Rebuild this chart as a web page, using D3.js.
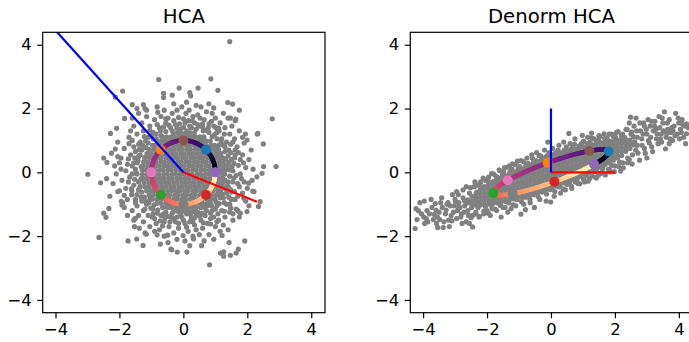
<!DOCTYPE html>
<html>
<head>
<meta charset="utf-8">
<script src="https://cdn.jsdelivr.net/npm/d3@7"></script>
<style>
  body { margin: 0; background: #fff; }
  text { font-family: "DejaVu Sans", sans-serif; }
</style>
</head>
<body>
<svg id="chart" width="689" height="342"></svg>
<script>
// ---- data ----
const tickValues = [-4, -2, 0, 2, 4];
const titles = ['HCA', 'Denorm HCA'];

// HCA (whitened) cloud: solid core as rows [y, xs], then scattered points [x, y]
const hcaCoreRows = [
  [1.24, [-0.31,-0.17,-0.06,0.08,0.21,0.34]],
  [1.11, [-0.65,-0.53,-0.39,-0.28,-0.14,-0.01,0.13,0.25,0.38,0.52,0.64]],
  [0.98, [-0.83,-0.70,-0.59,-0.44,-0.33,-0.20,-0.05,0.06,0.21,0.32,0.47,0.58,0.71,0.84]],
  [0.85, [-0.96,-0.85,-0.70,-0.59,-0.46,-0.31,-0.20,-0.07,0.08,0.19,0.34,0.45,0.60,0.71,0.86,0.97]],
  [0.72, [-1.08,-0.93,-0.82,-0.67,-0.56,-0.41,-0.30,-0.15,-0.04,0.11,0.22,0.37,0.48,0.63,0.74,0.89,1.00,1.10]],
  [0.59, [-1.14,-1.01,-0.86,-0.75,-0.60,-0.49,-0.34,-0.23,-0.08,0.03,0.18,0.29,0.44,0.55,0.70,0.81,0.96,1.07,1.17]],
  [0.46, [-1.21,-1.06,-0.95,-0.80,-0.69,-0.54,-0.43,-0.28,-0.17,-0.02,0.09,0.24,0.35,0.50,0.61,0.76,0.87,1.02,1.13,1.22]],
  [0.33, [-1.24,-1.11,-0.96,-0.85,-0.70,-0.59,-0.44,-0.33,-0.18,-0.07,0.08,0.19,0.34,0.45,0.60,0.71,0.86,0.97,1.12,1.25]],
  [0.20, [-1.27,-1.12,-1.01,-0.86,-0.75,-0.60,-0.49,-0.34,-0.23,-0.08,0.03,0.18,0.29,0.44,0.55,0.70,0.81,0.96,1.07,1.20,1.28]],
  [0.07, [-1.29,-1.16,-1.01,-0.90,-0.75,-0.64,-0.49,-0.38,-0.23,-0.12,0.03,0.14,0.29,0.40,0.55,0.66,0.81,0.92,1.07,1.18,1.30]],
  [-0.06, [-1.28,-1.13,-1.02,-0.87,-0.76,-0.61,-0.50,-0.35,-0.24,-0.09,0.02,0.17,0.28,0.43,0.54,0.69,0.80,0.95,1.06,1.21,1.29]],
  [-0.19, [-1.26,-1.13,-0.98,-0.87,-0.72,-0.61,-0.46,-0.35,-0.20,-0.09,0.06,0.17,0.32,0.43,0.58,0.69,0.84,0.95,1.10,1.23]],
  [-0.32, [-1.23,-1.08,-0.97,-0.82,-0.71,-0.56,-0.45,-0.30,-0.19,-0.04,0.07,0.22,0.33,0.48,0.59,0.74,0.85,1.00,1.11,1.24]],
  [-0.45, [-1.20,-1.07,-0.92,-0.81,-0.66,-0.55,-0.40,-0.29,-0.14,-0.03,0.12,0.23,0.38,0.49,0.64,0.75,0.90,1.01,1.16,1.21]],
  [-0.58, [-1.15,-1.00,-0.89,-0.74,-0.63,-0.48,-0.37,-0.22,-0.11,0.04,0.15,0.30,0.41,0.56,0.67,0.82,0.93,1.08,1.16]],
  [-0.71, [-1.07,-0.94,-0.79,-0.68,-0.53,-0.42,-0.27,-0.16,-0.01,0.10,0.25,0.36,0.51,0.62,0.77,0.88,1.03,1.09]],
  [-0.84, [-0.97,-0.82,-0.71,-0.56,-0.45,-0.30,-0.19,-0.04,0.07,0.22,0.33,0.48,0.59,0.74,0.85,0.98]],
  [-0.97, [-0.83,-0.70,-0.55,-0.44,-0.29,-0.18,-0.03,0.08,0.23,0.34,0.49,0.60,0.75,0.85]],
  [-1.10, [-0.65,-0.50,-0.39,-0.24,-0.13,0.02,0.13,0.28,0.39,0.54,0.66]],
  [-1.23, [-0.31,-0.16,-0.05,0.10,0.21,0.34]]
];
const hcaScatter = [
  [1.35,0.10],[1.42,0.31],[1.55,0.05],[1.60,0.45],[1.48,0.62],[1.72,0.22],[1.85,0.55],[1.68,0.80],[1.95,0.15],[2.05,0.40],[1.40,0.52],[1.78,-0.05],[2.12,0.70],[1.58,0.28],[1.90,0.92],[1.32,0.42],[2.18,0.10],
  [1.10,0.85],[1.20,1.05],[1.35,0.95],[1.05,1.25],[1.45,1.20],[1.30,1.40],[1.60,1.05],[1.15,1.55],[1.52,1.45],[1.75,1.30],[0.95,1.45],[1.40,1.70],[1.25,1.85],[1.62,1.62],[1.00,1.70],[1.85,1.10],[1.12,1.30],
  [0.62,1.30],[0.50,1.45],[0.78,1.40],[0.35,1.55],[0.65,1.65],[0.88,1.60],[0.45,1.80],[0.72,1.90],[0.25,1.40],[0.55,2.05],[0.90,1.85],[0.30,1.75],[0.80,2.15],[0.40,2.10],[0.18,1.95],[0.60,1.52],[0.95,2.02],
  [-0.10,1.35],[-0.25,1.50],[0.05,1.55],[-0.40,1.40],[-0.15,1.72],[0.08,1.85],[-0.35,1.85],[-0.55,1.55],[-0.05,2.05],[-0.30,2.15],[-0.60,1.95],[0.10,2.20],[-0.48,1.70],[-0.20,1.95],[-0.70,1.75],[0.00,1.40],[-0.82,2.05],
  [-0.70,1.15],[-0.85,1.05],[-0.95,1.25],[-0.75,1.40],[-1.10,1.10],[-1.05,1.45],[-1.25,1.30],[-0.90,1.65],[-1.30,1.55],[-1.45,1.20],[-1.15,1.75],[-1.55,1.45],[-1.40,1.85],[-1.70,1.10],[-1.60,1.70],[-0.80,1.88],[-1.20,2.00],
  [-1.30,0.70],[-1.40,0.50],[-1.55,0.80],[-1.45,0.30],[-1.65,0.55],[-1.75,0.25],[-1.85,0.75],[-1.60,1.00],[-1.95,0.45],[-2.05,0.95],[-2.15,0.20],[-1.35,0.95],[-1.80,0.05],[-2.25,0.60],[-1.50,0.10],[-2.00,0.30],[-1.70,0.90],
  [-1.32,-0.20],[-1.45,-0.05],[-1.55,-0.40],[-1.40,-0.55],[-1.68,-0.15],[-1.80,-0.50],[-1.62,-0.70],[-1.92,-0.25],[-2.05,-0.60],[-1.75,-0.85],[-2.20,-0.35],[-1.35,-0.45],[-2.10,-0.05],[-1.90,-0.95],[-2.30,-0.75],[-1.50,-0.85],[-2.40,-0.20],
  [-1.05,-0.85],[-1.15,-1.00],[-0.95,-1.15],[-1.30,-0.90],[-1.25,-1.20],[-1.45,-1.05],[-1.10,-1.35],[-1.40,-1.35],[-1.60,-1.20],[-0.90,-1.45],[-1.25,-1.55],[-1.55,-1.50],[-1.75,-1.35],[-1.05,-1.70],[-1.38,-1.75],[-1.85,-1.10],[-1.20,-1.90],
  [-0.55,-1.25],[-0.40,-1.40],[-0.70,-1.35],[-0.25,-1.55],[-0.60,-1.55],[-0.85,-1.60],[-0.45,-1.70],[-0.15,-1.75],[-0.75,-1.80],[-0.30,-1.90],[-0.60,-2.00],[-0.05,-1.40],[-0.90,-1.85],[-0.20,-2.10],[-0.48,-2.20],[-0.35,-1.28],[-0.72,-2.25],
  [0.10,-1.30],[0.25,-1.45],[0.05,-1.60],[0.40,-1.35],[0.35,-1.65],[0.15,-1.85],[0.55,-1.50],[0.60,-1.75],[0.30,-2.00],[0.75,-1.60],[0.50,-1.95],[0.05,-2.15],[0.80,-1.95],[0.20,-2.30],[0.65,-2.15],[0.45,-1.25],[0.95,-2.10],
  [0.75,-1.05],[0.90,-1.20],[1.05,-1.05],[0.95,-1.40],[1.20,-1.20],[1.10,-1.50],[1.35,-1.00],[1.30,-1.40],[1.45,-1.25],[1.25,-1.65],[1.55,-1.50],[1.00,-1.70],[1.65,-1.15],[1.40,-1.80],[1.75,-1.40],[0.85,-1.45],[1.15,-1.85],
  [1.30,-0.25],[1.40,-0.45],[1.35,-0.65],[1.55,-0.30],[1.60,-0.60],[1.50,-0.85],[1.75,-0.45],[1.70,-0.75],[1.90,-0.30],[1.85,-0.65],[2.00,-0.50],[1.25,-0.80],[1.95,-0.90],[1.65,-0.10],[2.15,-0.25],[1.45,-1.00],[2.05,-1.05],
  [1.38,0.22],[1.45,-0.12],[1.36,-0.42],[1.50,0.40],[1.30,0.65],[1.25,0.85],[1.05,1.05],[0.90,1.12],[0.80,1.25],[0.60,1.42],[0.40,1.35],[0.20,1.45],
  [0.12,1.30],[-0.20,1.38],[-0.35,1.30],[-0.55,1.28],[-0.62,1.42],[-0.85,1.20],[-0.95,1.05],[-1.10,0.92],[-1.18,0.78],[-1.35,0.55],[-1.42,0.36],[-1.32,0.18],
  [-1.48,-0.02],[-1.40,-0.30],[-1.30,-0.62],[-1.22,-0.78],[-1.08,-0.95],[-0.92,-1.02],[-0.80,-1.18],[-0.62,-1.30],[-0.48,-1.38],[-0.20,-1.40],[-0.08,-1.32],[0.22,-1.32],
  [0.35,-1.42],[0.58,-1.28],[0.72,-1.20],[0.88,-1.05],[1.02,-0.92],[1.15,-0.80],[1.22,-0.68],[1.40,-0.30],[1.32,-0.52],[1.52,0.18],
  [1.62,0.70],[1.55,0.95],[1.78,0.40],[1.70,-0.35],[1.62,-0.85],[1.48,-1.12],[1.28,-1.22],[1.08,-1.30],[0.85,-1.62],[0.62,-1.58],[0.40,-1.80],[0.10,-1.72],
  [-0.15,-1.60],[-0.42,-1.55],[-0.72,-1.52],[-0.98,-1.40],[-1.20,-1.15],[-1.50,-0.95],[-1.62,-0.52],[-1.72,-0.30],[-1.60,0.20],[-1.72,0.42],[-1.50,0.65],[-1.40,0.88],
  [-1.22,1.12],[-1.05,1.32],[-0.82,1.50],[-0.55,1.68],[-0.30,1.62],[0.00,1.68],[0.28,1.62],[0.52,1.70],[0.80,1.52],[1.02,1.40],[1.28,1.20],[1.48,0.88],
  [1.88,0.30],[1.82,-0.20],[1.55,-1.30],[0.20,-1.55],[-1.95,0.10],[-1.85,-0.72],[-1.65,1.30],[1.05,-1.55],[-0.65,-1.68],
  [1.42,0.70],[1.30,0.80],[1.18,0.95],[0.98,1.18],[0.70,1.32],[0.45,1.50],[0.15,1.62],[-0.12,1.52],[-0.45,1.48],[-0.72,1.30],[-1.00,1.15],[-1.18,0.98],
  [-1.28,0.85],[-1.52,0.45],[-1.60,-0.05],[-1.52,-0.22],[-1.45,-0.70],[-1.32,-0.78],[-1.18,-0.92],[-1.02,-1.12],[-0.82,-1.28],[-0.58,-1.42],[-0.30,-1.45],[0.00,-1.50],
  [0.30,-1.55],[0.52,-1.38],[0.68,-1.35],[0.85,-1.28],[1.00,-1.15],[1.12,-0.98],[1.28,-0.95],[1.42,-0.78],[1.48,-0.55],[1.58,-0.18],[1.45,0.08],[1.62,0.55],
  [1.72,0.62],[1.10,1.38],[-1.38,0.72],[-1.55,0.30],[1.50,-0.62],[-0.95,-1.30],
  [1.45,4.10],[-0.77,2.91],[0.86,2.93],[-1.90,2.55],[-0.13,2.64],[0.46,2.64],[1.08,2.57],[0.20,2.50],[0.23,2.40],[-0.62,2.48],[-0.62,2.35],[-0.35,2.42],
  [-2.13,2.36],[-1.60,2.12],[-1.45,2.00],[-1.25,2.12],[-1.15,1.95],[1.39,2.19],[1.54,2.14],[1.75,1.95],[1.47,1.70],[1.64,1.67],[1.94,1.20],[1.99,1.01],
  [2.31,1.20],[2.50,0.89],[2.78,1.68],[2.33,1.22],[2.90,0.18],[2.51,0.18],[2.46,-0.03],[2.30,-0.14],[2.04,-0.34],[2.17,-0.59],[2.40,-0.92],[2.35,-1.07],
  [2.21,-0.60],[1.89,-0.81],[1.70,-1.20],[1.78,-1.28],[1.99,-1.23],[1.92,-2.15],[1.72,-2.41],[1.65,-2.53],[1.47,-2.60],[1.26,-2.49],[1.43,-2.20],[1.21,-1.98],
  [1.16,-2.53],[1.26,-2.63],[0.82,-2.90],[0.57,-2.30],[0.11,-2.50],[-0.19,-2.50],[-0.39,-2.41],[-0.36,-2.43],[0.32,-2.09],[-0.01,-1.98],[-0.49,-1.97],[-0.82,-1.96],
  [-1.16,-1.94],[-1.46,-2.09],[-1.26,-2.29],[-1.73,-2.15],[-2.64,-2.04],[-2.33,-1.13],[-2.42,-1.41],[-2.49,-1.28],[-2.59,-0.33],[-2.99,-0.06],[-2.49,0.45],[-2.39,0.31],
  [-2.13,0.73],[-2.05,0.49],[-2.28,1.22],[-2.09,1.38],[-1.84,1.69],[-1.94,-0.91],[-1.92,-1.02],[-2.00,-0.58],[-1.61,-0.58],[-1.50,-1.44],[-1.53,-1.70]
];

// Denorm HCA cloud: solid core as columns [x, ys], then scattered points [x, y]
const denormCoreCols = [
  [-2.60, [-0.95,-0.86]],
  [-2.47, [-1.01,-0.89,-0.75]],
  [-2.34, [-1.03,-0.90,-0.79,-0.66]],
  [-2.21, [-1.02,-0.91,-0.78,-0.65,-0.53]],
  [-2.08, [-1.01,-0.88,-0.77,-0.64,-0.52,-0.45]],
  [-1.95, [-0.99,-0.87,-0.74,-0.63,-0.50,-0.38]],
  [-1.82, [-0.98,-0.85,-0.74,-0.61,-0.50,-0.37,-0.30]],
  [-1.69, [-0.95,-0.82,-0.71,-0.58,-0.47,-0.34,-0.24]],
  [-1.56, [-0.93,-0.80,-0.69,-0.56,-0.45,-0.32,-0.21,-0.17]],
  [-1.43, [-0.89,-0.76,-0.65,-0.52,-0.41,-0.28,-0.17,-0.10]],
  [-1.30, [-0.86,-0.73,-0.62,-0.49,-0.38,-0.25,-0.14,-0.05]],
  [-1.17, [-0.83,-0.70,-0.59,-0.46,-0.35,-0.22,-0.11,0.01]],
  [-1.04, [-0.79,-0.66,-0.55,-0.42,-0.31,-0.18,-0.07,0.06]],
  [-0.91, [-0.76,-0.63,-0.52,-0.39,-0.28,-0.15,-0.04,0.09,0.12]],
  [-0.78, [-0.72,-0.59,-0.48,-0.35,-0.24,-0.11,0.00,0.13,0.18]],
  [-0.65, [-0.69,-0.56,-0.45,-0.32,-0.21,-0.08,0.03,0.16,0.23]],
  [-0.52, [-0.65,-0.52,-0.41,-0.28,-0.17,-0.04,0.07,0.20,0.28]],
  [-0.39, [-0.61,-0.48,-0.37,-0.24,-0.13,0.00,0.11,0.24,0.33]],
  [-0.26, [-0.56,-0.43,-0.32,-0.19,-0.08,0.05,0.16,0.29,0.38]],
  [-0.13, [-0.53,-0.40,-0.29,-0.16,-0.05,0.08,0.19,0.32,0.43]],
  [0.00, [-0.48,-0.35,-0.24,-0.11,0.00,0.13,0.24,0.37,0.48]],
  [0.13, [-0.43,-0.30,-0.19,-0.06,0.05,0.18,0.29,0.42,0.53]],
  [0.26, [-0.38,-0.27,-0.16,-0.03,0.08,0.21,0.32,0.45,0.56]],
  [0.39, [-0.33,-0.22,-0.11,0.02,0.13,0.26,0.37,0.50,0.61]],
  [0.52, [-0.28,-0.18,-0.07,0.06,0.17,0.30,0.41,0.54,0.65]],
  [0.65, [-0.23,-0.14,-0.03,0.10,0.21,0.34,0.45,0.58,0.69]],
  [0.78, [-0.18,-0.11,0.00,0.13,0.24,0.37,0.48,0.61,0.72]],
  [0.91, [-0.12,-0.07,0.04,0.17,0.28,0.41,0.52,0.65,0.76]],
  [1.04, [-0.06,0.07,0.18,0.31,0.42,0.55,0.66,0.79]],
  [1.17, [-0.01,0.11,0.22,0.35,0.46,0.59,0.70,0.83]],
  [1.30, [0.05,0.14,0.25,0.38,0.49,0.62,0.73,0.86]],
  [1.43, [0.10,0.17,0.28,0.41,0.52,0.65,0.76,0.89]],
  [1.56, [0.17,0.21,0.32,0.45,0.56,0.69,0.80,0.93]],
  [1.69, [0.24,0.35,0.46,0.59,0.70,0.83,0.95]],
  [1.82, [0.30,0.38,0.49,0.62,0.73,0.86,0.98]],
  [1.95, [0.38,0.51,0.62,0.75,0.86,0.99]],
  [2.08, [0.45,0.52,0.65,0.76,0.89,1.01]],
  [2.21, [0.53,0.66,0.77,0.90,1.02]],
  [2.34, [0.66,0.78,0.91,1.03]],
  [2.47, [0.75,0.89,1.01]],
  [2.60, [0.86,0.95]]
];
const denormScatter = [
  [-4.25,-1.76],[-4.19,-1.48],[-4.22,-1.14],[-3.96,-0.90],[-3.90,-1.45],[-3.85,-1.55],[-3.80,-1.30],[-3.54,-1.73],[-3.37,-1.73],[-3.59,-1.19],[-3.55,-1.40],[-3.40,-1.10],
  [-3.30,-1.30],[-3.45,-0.95],[-3.20,-1.50],[-3.15,-1.05],[-3.05,-1.25],[-3.00,-0.85],[-2.95,-1.45],[-2.90,-0.70],[-2.85,-1.10],[-2.80,-1.30],[-2.75,-0.55],[-2.70,-0.90],
  [-2.65,-1.55],[-2.60,-1.20],[-2.55,-0.65],[-2.45,-1.71],[-2.45,-1.35],[-2.40,-0.45],[-2.35,-1.25],[-2.30,-0.40],[-2.25,-1.40],[-2.20,-0.30],[-2.10,-1.30],[-2.05,-0.25],
  [-2.00,-1.20],[-1.95,-0.15],[-1.90,-1.35],[-1.80,-0.05],[-1.75,-1.15],[-1.70,-0.15],[-1.56,-1.40],[-1.60,0.05],[-1.50,-1.10],[-1.45,0.15],[-1.35,-1.25],[-1.30,0.20],
  [-1.25,-1.14],[-1.20,0.27],[-1.10,-1.05],[-1.05,0.35],[-0.94,-1.31],[-0.94,0.37],[-0.85,-1.00],[-0.80,-1.17],[-0.75,0.45],[-0.65,-0.95],[-0.60,0.55],[-0.52,-1.10],
  [-0.45,0.62],[-0.37,0.53],[-0.35,-0.85],[-0.20,0.70],[-0.15,-0.90],[-0.10,0.95],[-0.01,-0.93],[0.05,0.75],[0.10,-0.75],[0.25,0.85],[0.30,-0.65],[0.40,0.95],
  [0.45,-0.55],[0.56,1.22],[0.60,0.90],[0.65,-0.50],[0.75,1.05],[0.85,-0.35],[0.98,1.16],[1.00,0.95],[1.05,-0.30],[1.15,1.10],[1.20,-0.20],[1.27,1.23],
  [1.35,1.05],[1.40,-0.15],[1.48,-0.09],[1.50,1.15],[1.60,0.00],[1.66,1.21],[1.70,1.05],[1.80,0.10],[1.85,0.01],[1.90,1.20],[2.00,0.20],[2.05,1.25],
  [2.18,0.04],[2.20,1.15],[2.25,0.30],[2.35,1.35],[2.40,0.45],[2.49,1.73],[2.50,1.20],[2.55,0.55],[2.60,1.45],[2.65,0.70],[2.70,1.10],[2.77,0.38],
  [2.80,1.30],[2.85,0.85],[2.90,1.55],[2.95,0.60],[3.00,1.20],[3.05,1.00],[3.10,1.45],[3.15,0.80],[3.20,1.30],[3.25,1.60],[3.30,1.05],[3.35,0.90],
  [3.40,1.40],[3.45,1.20],[3.50,1.55],[3.58,0.74],[3.60,1.10],[3.65,1.35],[3.70,1.65],[3.75,1.25],[3.80,1.00],[3.85,1.45],[3.90,1.85],[3.95,1.20],
  [4.00,1.55],[4.05,1.35],[4.10,1.65],[4.15,1.10],[4.21,0.90],[4.24,1.52],[4.24,1.21],[4.30,1.40],
  [-2.52,-0.48],[-2.38,-0.30],[-2.22,-0.36],[-2.12,-0.18],[-1.98,-0.22],[-1.86,-0.04],[-1.72,-0.12],[-1.62,0.08],[-1.48,0.02],[-1.36,0.16],[-1.22,0.10],[-1.12,0.24],
  [-0.98,0.18],[-0.86,0.34],[-0.72,0.28],[-0.58,0.44],[-0.46,0.36],[-0.32,0.52],[-0.18,0.46],[-0.06,0.62],[0.08,0.56],[0.22,0.70],[0.34,0.62],[0.48,0.80],
  [0.62,0.72],[0.74,0.88],[0.88,0.82],[1.02,0.98],[1.14,0.90],[1.28,1.08],[1.42,0.98],[1.54,1.12],[1.68,1.06],[1.82,1.20],[1.96,1.12],[2.10,1.28],
  [2.24,1.20],[2.38,1.34],[2.52,1.26],
  [-2.50,-1.42],[-2.36,-1.30],[-2.24,-1.38],[-2.10,-1.22],[-1.96,-1.28],[-1.84,-1.14],[-1.70,-1.20],[-1.58,-1.04],[-1.44,-1.10],[-1.32,-0.96],[-1.18,-1.02],[-1.06,-0.86],
  [-0.92,-0.92],[-0.80,-0.78],[-0.66,-0.84],[-0.54,-0.70],[-0.40,-0.76],[-0.28,-0.62],[-0.14,-0.68],[-0.02,-0.54],[0.12,-0.60],[0.24,-0.46],[0.38,-0.52],[0.50,-0.38],
  [0.64,-0.44],[0.76,-0.30],[0.90,-0.36],[1.02,-0.22],[1.16,-0.28],[1.28,-0.12],[1.42,-0.18],[1.56,-0.04],[1.70,-0.08],[1.84,0.06],[1.98,0.02],[2.12,0.18],
  [2.26,0.14],[2.40,0.30],[2.54,0.26],
  [-2.70,-1.05],[-2.75,-0.80],[-2.82,-1.40],[-2.88,-0.95],[-2.92,-1.20],[-3.02,-1.05],[-3.08,-0.70],[-3.12,-1.35],[-3.22,-0.95],[-3.28,-1.18],[-3.35,-1.55],[-3.42,-0.80],
  [-3.50,-1.25],[-3.62,-0.98],[-3.68,-1.48],[-3.72,-1.10],[-3.88,-1.20],[-3.95,-1.60],[-4.05,-1.30],[-4.10,-0.95],[-2.65,-0.45],[-2.58,-1.35],[-2.78,-1.60],[-3.18,-1.70],[-2.95,-0.60],
  [2.62,0.95],[2.68,1.30],[2.72,0.60],[2.78,1.55],[2.84,1.05],[2.92,0.75],[2.98,1.35],[3.04,1.65],[3.12,1.10],[3.18,0.65],[3.24,1.45],[3.32,1.20],
  [3.38,1.75],[3.46,0.95],[3.52,1.30],[3.64,1.55],[3.72,1.05],[3.78,1.40],[3.88,1.15],[3.98,1.70],[4.08,1.25],[4.18,1.45],[2.66,1.70],[3.00,0.45],[3.55,1.90],
  [-3.10,-1.52],[-2.90,-1.10],[-2.72,-1.25],[-2.62,-0.95],[-2.48,-1.10],[-2.32,-0.62],[-2.28,-1.10],[-2.18,-0.48],[-2.05,-1.08],[-1.92,-0.32],[-1.88,-1.02],[-1.78,-0.28],
  [-1.65,-0.95],[-1.52,-0.08],[-1.40,-0.92],[-1.28,0.02],[-1.15,-0.80],[-1.02,0.12],[-0.90,-0.78],[-0.78,0.22],[-0.68,-0.70],[-0.55,0.30],[-0.42,-0.64],[-0.30,0.40],
  [-0.22,-0.58],[-0.12,0.52],[0.02,-0.52],[0.15,0.62],[0.28,-0.42],[0.42,0.70],[0.58,-0.30],[0.68,0.80],[0.82,-0.20],[0.95,0.90],[1.10,-0.10],[1.22,0.95],
  [1.35,0.02],[1.48,1.02],[1.62,0.12],[1.75,1.08],[1.90,0.22],[2.02,1.10],[2.15,0.32],[2.30,1.10],[2.45,0.40],[2.58,1.12],[2.70,0.85],[2.88,1.20],
  [3.08,0.92],[3.28,1.35],[3.42,1.05],[3.62,1.22],[3.82,1.30],[4.02,1.05],[4.12,1.50],[-3.25,-1.00],[-3.58,-1.60],[-3.75,-0.85],[-3.98,-1.40],[-4.15,-1.20],
  [-3.48,-1.48],[-3.65,-1.32],[-2.98,-0.92],[-2.55,-1.60],[-2.40,-0.90],[2.45,1.55],[2.92,1.45],[3.15,1.60],[3.48,1.70],[3.70,0.90]
];

// circle (left) and its image, the ellipse (right): conjugate half-axes u, v
const hcaFrame = { u: [1, 0], v: [0, 1] };
const denormFrame = { u: [1.35, 0.25], v: [1.20, 0.67] };
// marker angles in degrees, one tab10 colour each
const markerAngles = [45, 135, 225, 315, 0, 90, 180, 270];
const markerColors = ['#1f77b4','#ff7f0e','#2ca02c','#d62728','#9467bd','#8c564b','#e377c2','#7f7f7f'];
// axis lines from the origin: [x, y] end points
const hcaRedEnd = [2.30, -0.92];
const hcaBlueEnd = [-3.99, 4.44];
const denormRedEnd = [2, 0];
const denormBlueEnd = [0, 2];

// ---- drawing ----
const svg = d3.select('#chart');
const panels = [
  { title: titles[0], left: 42.7, core: hcaCoreRows.flatMap(([y, xs]) => xs.map(x => [x, y])),
    scatter: hcaScatter, frame: hcaFrame, red: hcaRedEnd, blue: hcaBlueEnd },
  { title: titles[1], left: 410.3, core: denormCoreCols.flatMap(([x, ys]) => ys.map(y => [x, y])),
    scatter: denormScatter, frame: denormFrame, red: denormRedEnd, blue: denormBlueEnd }
];
const panelTop = 32.3, pw = 282.3, ph = 280.4;

const onFrame = (f, t) => [
  f.u[0] * Math.cos(t) + f.v[0] * Math.sin(t),
  f.u[1] * Math.cos(t) + f.v[1] * Math.sin(t)
];

panels.forEach((p, i) => {
  const x = d3.scaleLinear().domain([-4.40, 4.43]).range([0, pw]);
  const y = d3.scaleLinear().domain([-4.40, 4.39]).range([ph, 0]);
  const g = svg.append('g').attr('transform', `translate(${p.left},${panelTop})`);

  svg.append('clipPath').attr('id', 'clip' + i)
    .append('rect').attr('width', pw).attr('height', ph);
  const plot = g.append('g').attr('clip-path', `url(#clip${i})`);

  // gray cloud
  plot.append('g').selectAll('circle')
    .data(p.core.concat(p.scatter))
    .join('circle')
    .attr('cx', d => x(d[0]))
    .attr('cy', d => y(d[1]))
    .attr('r', 2.6)
    .attr('fill', '#808080');

  // magma coloured ring
  const n = 160;
  const segs = d3.range(n).map(k => {
    const t0 = (k / n) * 2 * Math.PI, t1 = ((k + 1) / n) * 2 * Math.PI;
    return { a: onFrame(p.frame, t0), b: onFrame(p.frame, t1), c: d3.interpolateMagma((k + 0.5) / n) };
  });
  plot.append('g').selectAll('line')
    .data(segs)
    .join('line')
    .attr('x1', d => x(d.a[0])).attr('y1', d => y(d.a[1]))
    .attr('x2', d => x(d.b[0])).attr('y2', d => y(d.b[1]))
    .attr('stroke', d => d.c)
    .attr('stroke-width', 4.6)
    .attr('stroke-linecap', 'round');

  // markers
  plot.append('g').selectAll('circle')
    .data(markerAngles.map((a, k) => ({ pos: onFrame(p.frame, a * Math.PI / 180), c: markerColors[k] })))
    .join('circle')
    .attr('cx', d => x(d.pos[0]))
    .attr('cy', d => y(d.pos[1]))
    .attr('r', 5)
    .attr('fill', d => d.c);

  // axis lines
  [[p.red, '#ff0000'], [p.blue, '#0000ff']].forEach(([end, col]) => {
    plot.append('line')
      .attr('x1', x(0)).attr('y1', y(0))
      .attr('x2', x(end[0])).attr('y2', y(end[1]))
      .attr('stroke', col)
      .attr('stroke-width', 2.2);
  });

  // axes
  const xa = g.append('g').attr('transform', `translate(0,${ph})`)
    .call(d3.axisBottom(x).tickValues(tickValues).tickSize(5.5).tickPadding(5));
  const ya = g.append('g')
    .call(d3.axisLeft(y).tickValues(tickValues).tickSize(5.5).tickPadding(5.5));
  [xa, ya].forEach(a => {
    a.select('.domain').remove();
    a.selectAll('line').attr('stroke', '#000').attr('stroke-width', 1.2);
    a.selectAll('text').attr('fill', '#000').style('font-size', '16.4px')
      .style('font-family', '"DejaVu Sans", sans-serif');
  });

  g.append('rect')
    .attr('width', pw).attr('height', ph)
    .attr('fill', 'none')
    .attr('stroke', '#000')
    .attr('stroke-width', 1.2);

  g.append('text')
    .attr('x', pw / 2).attr('y', -9.5)
    .attr('text-anchor', 'middle')
    .style('font-size', '19.7px')
    .text(p.title);
});
</script>
</body>
</html>
